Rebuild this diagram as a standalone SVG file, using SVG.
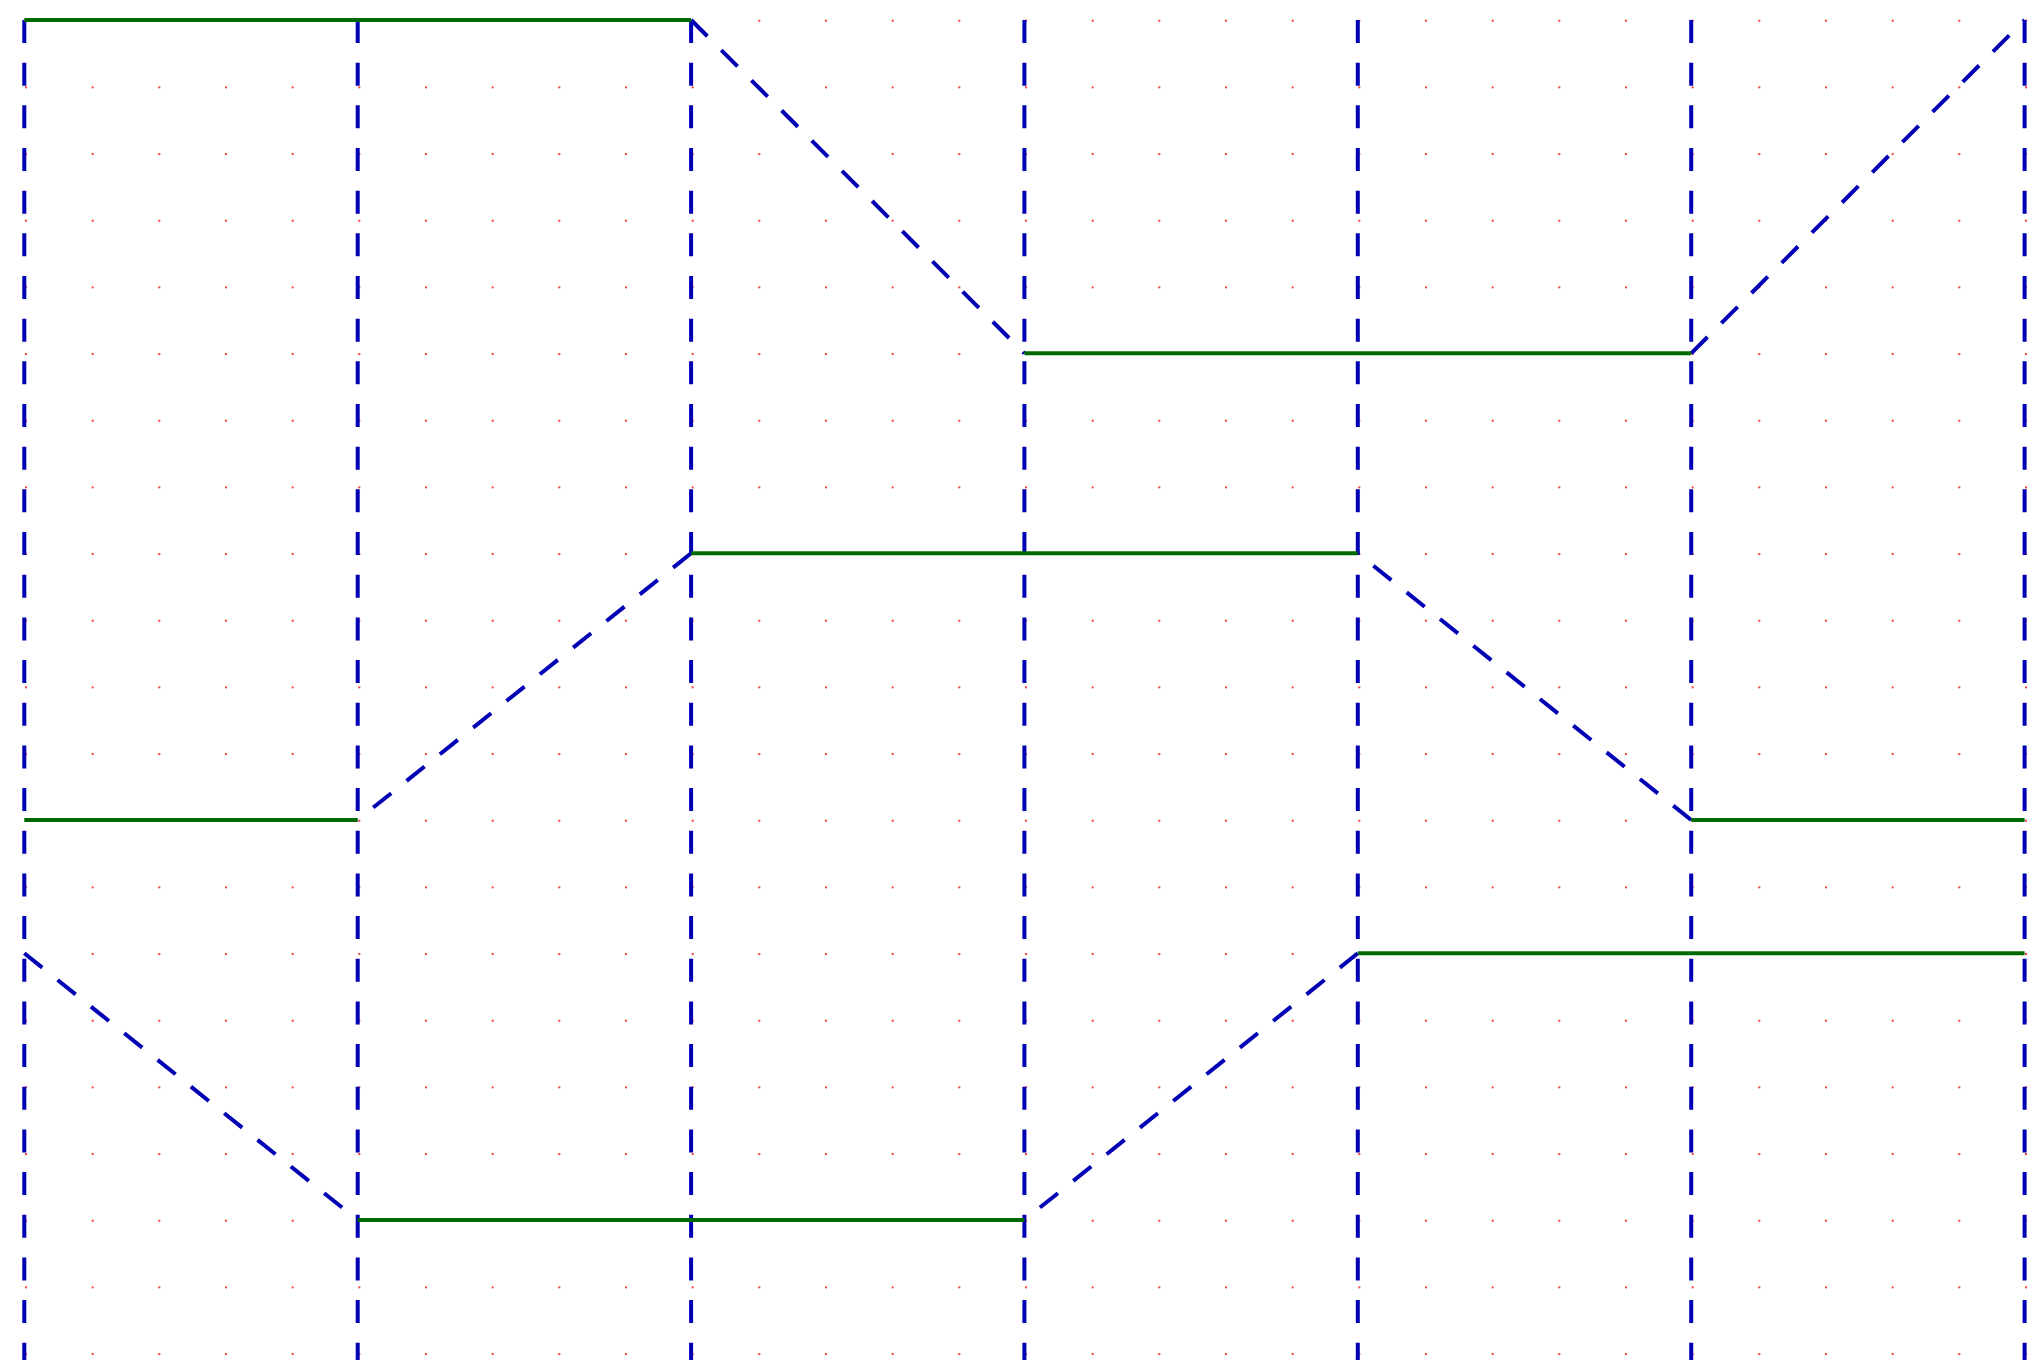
<svg xmlns="http://www.w3.org/2000/svg" width="2044" height="1360" viewBox="0 0 2044 1360">
<style>
.v{stroke:#0000b4;stroke-width:4;stroke-dasharray:23 19.67;fill:none}
.d{stroke:#0000b4;stroke-width:4;stroke-dasharray:23 19.67;fill:none}
.g{stroke:#006800;stroke-width:4;fill:none}
</style>
<defs>
<pattern id="dots" x="25" y="19.7" width="66.667" height="66.667" patternUnits="userSpaceOnUse">
<rect x="0" y="0" width="2" height="2" fill="#ff3c3c"/>
</pattern>
</defs>
<rect width="2044" height="1360" fill="#ffffff"/>
<rect id="grid" width="2044" height="1360" fill="url(#dots)"/>
<g id="dividers">
<line class="v" x1="24.3" y1="20" x2="24.3" y2="1360"/>
<line class="v" x1="357.7" y1="20" x2="357.7" y2="1360"/>
<line class="v" x1="691.1" y1="20" x2="691.1" y2="1360"/>
<line class="v" x1="1024.4" y1="20" x2="1024.4" y2="1360"/>
<line class="v" x1="1357.8" y1="20" x2="1357.8" y2="1360"/>
<line class="v" x1="1691.2" y1="20" x2="1691.2" y2="1360"/>
<line class="v" x1="2024.6" y1="20" x2="2024.6" y2="1360"/>
</g>
<g id="connectors">
<line class="d" x1="691.1" y1="20" x2="1024.4" y2="353.3"/>
<line class="d" x1="1691.2" y1="353.3" x2="2024.6" y2="20"/>
<line class="d" x1="691.1" y1="553.3" x2="357.7" y2="820"/>
<line class="d" x1="1691.2" y1="820" x2="1357.8" y2="553.3"/>
<line class="d" x1="24.3" y1="953.3" x2="357.7" y2="1220"/>
<line class="d" x1="1357.8" y1="953.3" x2="1024.4" y2="1220"/>
</g>
<g id="levels">
<line class="g" x1="24.3" y1="20" x2="691.1" y2="20"/>
<line class="g" x1="1024.4" y1="353.3" x2="1691.2" y2="353.3"/>
<line class="g" x1="691.1" y1="553.3" x2="1357.8" y2="553.3"/>
<line class="g" x1="24.3" y1="820" x2="357.7" y2="820"/>
<line class="g" x1="1691.2" y1="820" x2="2024.6" y2="820"/>
<line class="g" x1="1357.8" y1="953.3" x2="2024.6" y2="953.3"/>
<line class="g" x1="357.7" y1="1220" x2="1024.4" y2="1220"/>
</g>
</svg>
